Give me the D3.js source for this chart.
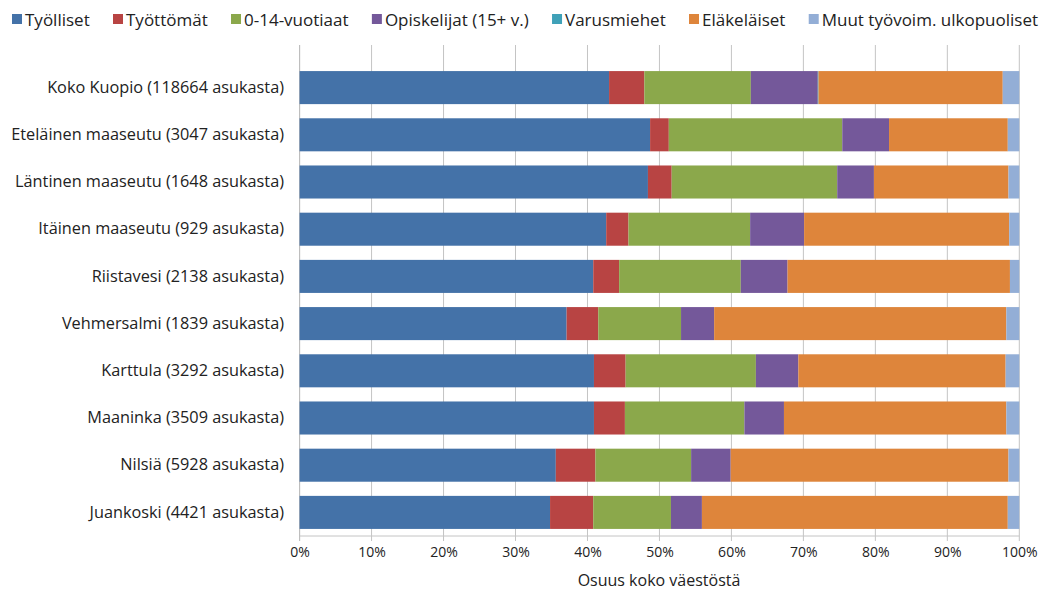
<!DOCTYPE html>
<html><head><meta charset="utf-8">
<script src="https://cdn.jsdelivr.net/npm/d3@7/dist/d3.min.js"></script>
<style>body{margin:0;background:#fff}svg{display:block}text{font-family:"Open Sans",sans-serif;fill:#222}</style>
</head><body><svg id="c" width="1042" height="591"></svg>
<script>
const categories = ["Koko Kuopio (118664 asukasta)","Eteläinen maaseutu (3047 asukasta)","Läntinen maaseutu (1648 asukasta)","Itäinen maaseutu (929 asukasta)","Riistavesi (2138 asukasta)","Vehmersalmi (1839 asukasta)","Karttula (3292 asukasta)","Maaninka (3509 asukasta)","Nilsiä (5928 asukasta)","Juankoski (4421 asukasta)"];
const seriesNames = ["Työlliset","Työttömät","0-14-vuotiaat","Opiskelijat (15+ v.)","Varusmiehet","Eläkeläiset","Muut työvoim. ulkopuoliset"];
const tyolliset   = [43.0,48.7,48.4,42.6,40.8,37.1,40.9,40.9,35.6,34.8];
const tyottomat   = [4.9,2.6,3.3,3.1,3.6,4.4,4.4,4.3,5.5,6.0];
const lapset      = [14.8,24.1,23.0,16.9,16.9,11.5,18.1,16.6,13.3,10.8];
const opiskelijat = [9.3,6.5,5.1,7.5,6.5,4.6,5.9,5.5,5.5,4.3];
const varusmiehet = [0.1,0,0,0,0,0,0,0,0,0];
const elakelaiset = [25.6,16.5,18.7,28.5,30.9,40.6,28.8,30.9,38.6,42.5];
const muut        = [2.3,1.6,1.5,1.4,1.3,1.8,1.9,1.8,1.5,1.6];
const tickValues = [0,10,20,30,40,50,60,70,80,90,100];
const colors = ["#4472A8","#B84443","#8BA84B","#74589A","#3FA1B8","#DE853B","#93AED6"];

const seriesData = [tyolliset,tyottomat,lapset,opiskelijat,varusmiehet,elakelaiset,muut];
const rows = categories.map((c,i)=>{const o={cat:c}; seriesNames.forEach((s,j)=>o[s]=seriesData[j][i]); return o;});
const stack = d3.stack().keys(seriesNames)(rows);

const svg = d3.select("#c");
const x = d3.scaleLinear().domain([0,100]).range([299.6,1019.3]);
const y = d3.scaleBand().domain(categories).range([64,536]).paddingInner(0.3).paddingOuter(0.15);

// gridlines
svg.append("g").selectAll("line").data(tickValues).join("line")
  .attr("x1",d=>x(d)).attr("x2",d=>x(d)).attr("y1",45).attr("y2",541)
  .attr("stroke","#c4c4c4").attr("stroke-width",1);
svg.append("line").attr("x1",x(0)).attr("x2",x(100)).attr("y1",536).attr("y2",536).attr("stroke","#c4c4c4");
svg.append("line").attr("x1",x(0)).attr("x2",x(0)).attr("y1",45).attr("y2",541).attr("stroke","#bdbdbd");

// bars
svg.append("g").selectAll("g").data(stack).join("g").attr("fill",(d,i)=>colors[i])
  .selectAll("rect").data(d=>d).join("rect")
  .attr("x",d=>x(d[0])).attr("width",d=>Math.max(0,x(d[1])-x(d[0])))
  .attr("y",d=>y(d.data.cat)).attr("height",y.bandwidth());

// x axis ticks
const xa = svg.append("g").attr("transform","translate(0,536)")
  .call(d3.axisBottom(x).tickValues(tickValues).tickFormat(d=>d+"%").tickSize(0).tickPadding(11));
xa.select(".domain").remove();
xa.selectAll("text").style("font-family","'Open Sans',sans-serif").style("font-size","14px").attr("fill","#333");

// y labels
const ya = svg.append("g").attr("transform","translate(284,0)")
  .call(d3.axisLeft(y).tickSize(0).tickPadding(0));
ya.select(".domain").remove();
ya.selectAll("text").style("font-family","'Open Sans',sans-serif").style("font-size","16.3px").attr("fill","#222");

// axis title
svg.append("text").attr("x",659).attr("y",586).attr("text-anchor","middle")
  .style("font-size","16px").attr("fill","#222").text("Osuus koko väestöstä");

// legend
const lg = svg.append("g");
const items = seriesNames.map((s,i)=>{
  const r = lg.append("rect").attr("y",14).attr("width",10).attr("height",10).attr("fill",colors[i]);
  const t = lg.append("text").attr("y",25.5).style("font-size","17px").attr("fill","#222").text(s);
  return {r,t,w:t.node().getComputedTextLength()};
});
const startX = 12, endX = 1038, sqW = 10, sqGap = 3;
const totalText = d3.sum(items,d=>d.w) + items.length*(sqW+sqGap);
const gap = (endX-startX-totalText)/(items.length-1);
let lx = startX;
items.forEach(d=>{
  d.r.attr("x",lx);
  d.t.attr("x",lx+sqW+sqGap);
  lx += sqW+sqGap+d.w+gap;
});
</script></body></html>
